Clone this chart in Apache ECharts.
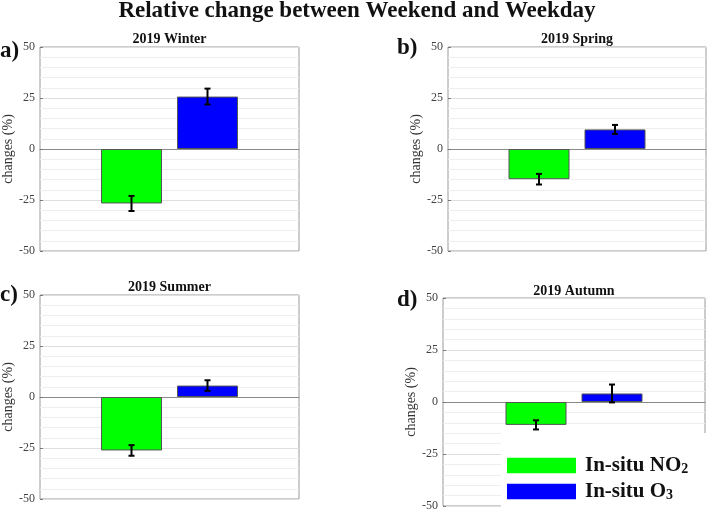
<!DOCTYPE html>
<html>
<head>
<meta charset="utf-8">
<script src="https://cdn.jsdelivr.net/npm/echarts@6/dist/echarts.min.js"></script>
<style>html,body{margin:0;padding:0;background:#fff;}#c{width:709px;height:514px;}</style>
</head>
<body>
<div id="c"></div>
<script>
// ---- data ----
const mainTitle = 'Relative change between Weekend and Weekday';
const panelTitles = ['2019 Winter', '2019 Spring', '2019 Summer', '2019 Autumn'];
const panelLabels = ['a)', 'b)', 'c)', 'd)'];
const seriesNames = ['In-situ NO2', 'In-situ O3'];
const legendMain = ['In-situ NO', 'In-situ O'];
const legendSub = ['2', '3'];
const no2Mean = [-26.7, -14.8, -26.2, -11.0];
const no2Err = [3.7, 2.6, 2.6, 2.2];
const o3Mean = [25.7, 9.6, 5.6, 4.1];
const o3Err = [3.9, 2.2, 2.6, 4.3];
const yTicks = [-50, -25, 0, 25, 50];

// ---- layout / style ----
const FONT = "'Liberation Serif','Times New Roman',serif";
const grids = [
  {left: 40, top: 47, width: 259, height: 204},
  {left: 448, top: 47, width: 258, height: 204},
  {left: 40, top: 295, width: 259, height: 204},
  {left: 443, top: 298, width: 262, height: 208}
];
const titlePos = [[169.5, 32], [577, 32], [169.5, 280], [574, 284]];
const labelPos = [[0, 40], [397, 37], [0, 284], [397, 289]];
const BAR_W = 61, GAP = 15;
const OFF = (BAR_W + GAP) / 2;
const colors = ['#00ff00', '#0000ff'];

function errRender(offset) {
  return function (params, api) {
    const p1 = api.coord([api.value(0), api.value(1)]);
    const p2 = api.coord([api.value(0), api.value(2)]);
    const x = p1[0] + offset;
    const style = {stroke: '#000', lineWidth: 2};
    return {type: 'group', children: [
      {type: 'line', shape: {x1: x, y1: p1[1], x2: x, y2: p2[1]}, style: style},
      {type: 'line', shape: {x1: x - 3, y1: p1[1], x2: x + 3, y2: p1[1]}, style: style},
      {type: 'line', shape: {x1: x - 3, y1: p2[1], x2: x + 3, y2: p2[1]}, style: style}
    ]};
  };
}

const option = {
  animation: false,
  backgroundColor: '#fff',
  title: [{text: mainTitle, left: 357, top: 0, padding: 0, textAlign: 'center',
           textStyle: {fontFamily: FONT, fontSize: 23, fontWeight: 'bold', color: '#111'}}]
    .concat(panelTitles.map((t, i) => ({text: t, left: titlePos[i][0], top: titlePos[i][1], padding: 0, textAlign: 'center',
           textStyle: {fontFamily: FONT, fontSize: 14, fontWeight: 'bold', color: '#111'}})))
    .concat(panelLabels.map((t, i) => ({text: t, left: labelPos[i][0], top: labelPos[i][1], padding: 0,
           textStyle: {fontFamily: FONT, fontSize: 23, fontWeight: 'bold', color: '#111'}}))),
  grid: grids.map(g => Object.assign({show: true, borderColor: '#9a9a9a', borderWidth: 1, backgroundColor: 'transparent'}, g)),
  xAxis: grids.map((g, i) => ({
    type: 'category', gridIndex: i, data: [''],
    axisLine: {onZero: true, lineStyle: {color: '#8a8a8a', width: 1}},
    axisTick: {show: false}, axisLabel: {show: false}, splitLine: {show: false}
  })),
  yAxis: grids.map((g, i) => ({
    type: 'value', gridIndex: i, min: yTicks[0], max: yTicks[yTicks.length - 1], interval: 25,
    name: 'changes (%)', nameLocation: 'middle', nameRotate: 90, nameGap: 24,
    nameTextStyle: {fontFamily: FONT, fontSize: 14, color: '#333'},
    axisLine: {show: false},
    axisTick: {show: true, inside: true, length: 3, lineStyle: {color: '#777'}},
    axisLabel: {fontFamily: FONT, fontSize: 12, color: '#444', margin: 5},
    splitLine: {show: true, lineStyle: {color: '#dedede', width: 1}},
    minorTick: {show: false, splitNumber: 5},
    minorSplitLine: {show: true, lineStyle: {color: '#eeeeee', width: 1}}
  })),
  legend: {
    orient: 'vertical', left: 502, top: 450, z: 20,
    data: seriesNames, itemWidth: 69, itemHeight: 15.5, itemGap: 5,
    icon: 'rect', selectedMode: false,
    itemStyle: {borderWidth: 0},
    formatter: function (name) {
      const k = seriesNames.indexOf(name);
      return '{a|' + legendMain[k] + '}{b|' + legendSub[k] + '}';
    },
    textStyle: {padding: [0, 0, 0, 4], rich: {
      a: {fontFamily: FONT, fontSize: 21, fontWeight: 'bold', color: '#111', lineHeight: 21},
      b: {fontFamily: FONT, fontSize: 14, fontWeight: 'bold', color: '#111', lineHeight: 21, verticalAlign: 'bottom'}
    }}
  },
  graphic: [{type: 'rect', z: 10, shape: {x: 501, y: 433, width: 210, height: 82}, style: {fill: '#fff'}}],
  series: []
};

for (let i = 0; i < 4; i++) {
  option.series.push({
    type: 'bar', name: seriesNames[0], xAxisIndex: i, yAxisIndex: i, data: [no2Mean[i]],
    barWidth: BAR_W, barGap: (GAP / BAR_W * 100) + '%',
    itemStyle: {color: colors[0], borderColor: '#555', borderWidth: 1}
  });
  option.series.push({
    type: 'bar', name: seriesNames[1], xAxisIndex: i, yAxisIndex: i, data: [o3Mean[i]],
    barWidth: BAR_W, barGap: (GAP / BAR_W * 100) + '%',
    itemStyle: {color: colors[1], borderColor: '#555', borderWidth: 1}
  });
  option.series.push({
    type: 'custom', xAxisIndex: i, yAxisIndex: i, z: 5,
    renderItem: errRender(-OFF),
    data: [[0, no2Mean[i] - no2Err[i], no2Mean[i] + no2Err[i]]]
  });
  option.series.push({
    type: 'custom', xAxisIndex: i, yAxisIndex: i, z: 5,
    renderItem: errRender(OFF),
    data: [[0, o3Mean[i] - o3Err[i], o3Mean[i] + o3Err[i]]]
  });
}

const chart = echarts.init(document.getElementById('c'), null, {renderer: 'canvas'});
chart.setOption(option);
</script>
</body>
</html>
